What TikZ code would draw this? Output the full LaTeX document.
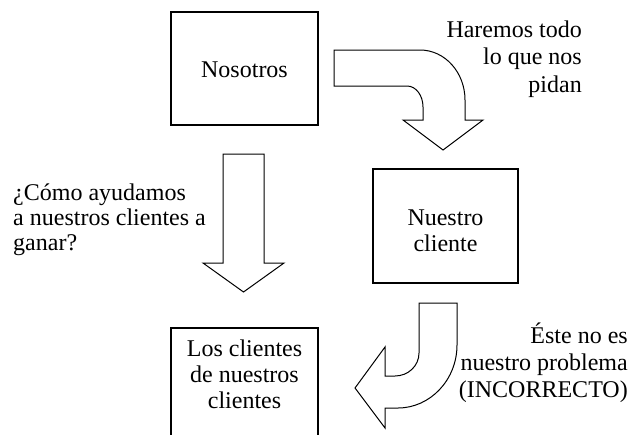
\documentclass[tikz,border=0pt]{standalone}
\usepackage{fontspec}
\setmainfont{Liberation Serif}
\begin{document}
\begin{tikzpicture}[x=1pt,y=-1pt,
  box/.style={draw, line width=1.8pt, inner sep=0pt, align=center, text depth=0pt, font=\fontsize{24}{26}\selectfont},
  lbl/.style={inner sep=0pt},
  blockarrow/.style={draw, line width=1pt, line join=miter, fill=white}]
\clip (0,0) rectangle (631,434);
\fill[white] (0,0) rectangle (631,434);
% boxes
\node[box, minimum width=147pt, minimum height=113pt, text height=17pt] (nos) at (244.5,68.5) {Nosotros};
\node[box, minimum width=145pt, minimum height=114pt, text height=50pt] (cli) at (445.5,226) {Nuestro\\cliente};
\node[box, minimum width=147pt, minimum height=109pt, text height=51pt] (cc) at (244.5,382.5) {Los clientes\\de nuestros\\clientes};
% labels (base anchor = baseline of the last line)
\node[lbl, anchor=base east, align=right, font=\fontsize{24}{27.5}\selectfont] (t1) at (582,92) {Haremos todo\\lo que nos\\pidan};
\node[lbl, anchor=base west, align=left, font=\fontsize{24}{25}\selectfont] (t2) at (13,250) {¿Cómo ayudamos\\a nuestros clientes a\\ganar?};
\node[lbl, anchor=base east, align=right, font=\fontsize{24}{27}\selectfont] (t3) at (628,397) {Éste no es\\nuestro problema\\(INCORRECTO)};
% curved arrow from Nosotros to Nuestro cliente
\draw[blockarrow] (334,50) -- (420,50) .. controls (445,50) and (465,72.5) .. (465,100)
  -- (465,120) -- (483,120) -- (443,150) -- (403,120) -- (423,120) -- (423,107)
  .. controls (423,95.5) and (416,86) .. (407,86) -- (334,86) -- cycle;
% straight arrow
\draw[blockarrow] (223,154) -- (264,154) -- (264,263) -- (284,263) -- (243.5,292)
  -- (203,263) -- (223,263) -- cycle;
% curved arrow from Nuestro cliente to Los clientes
\draw[blockarrow] (419,303) -- (457,303) -- (457,345)
  .. controls (457,380) and (430,408) .. (398,408) -- (385,408) -- (385,428) -- (355,388)
  -- (385,347) -- (385,376) -- (395,376) .. controls (408,376) and (419,366) .. (419,353) -- cycle;
\end{tikzpicture}
\end{document}
